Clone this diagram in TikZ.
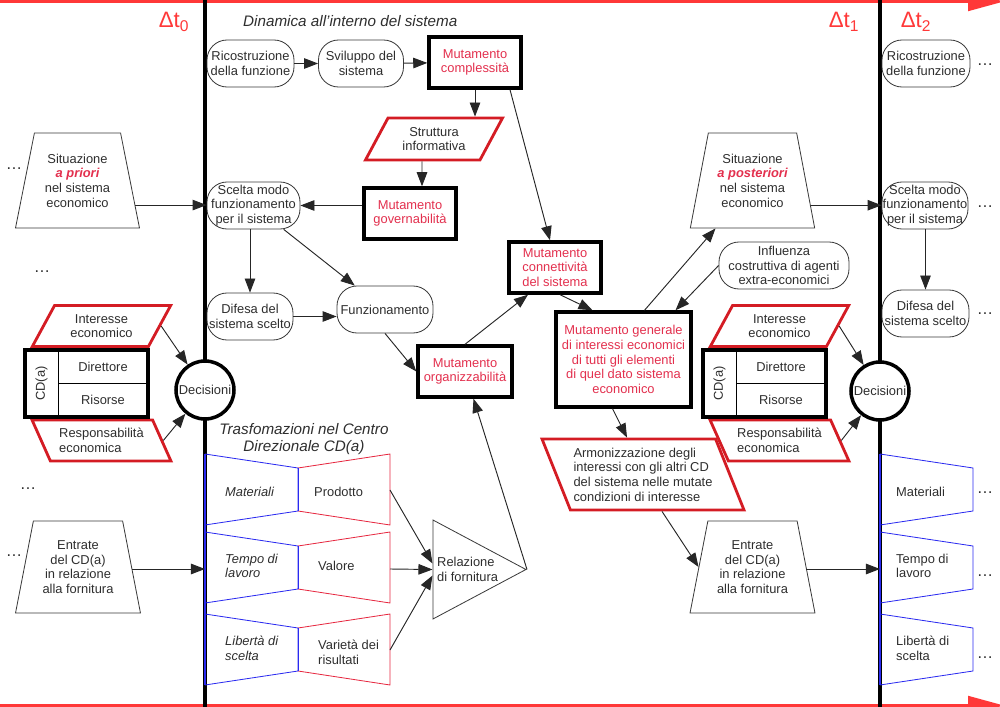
\documentclass[tikz,border=0pt]{standalone}
\usepackage{fontspec}
\setmainfont{Liberation Sans}
\usetikzlibrary{arrows.meta,shapes.geometric,shapes.misc}

\definecolor{txtgray}{HTML}{2E2E2E}
\definecolor{redtxt}{HTML}{E3304E}
\definecolor{rededge}{HTML}{D41C24}
\definecolor{tred}{HTML}{FF3838}
\definecolor{linegray}{HTML}{3A3A3A}
\definecolor{rowblue}{HTML}{2A2AF0}
\definecolor{rowred}{HTML}{E62840}

\newcommand{\pxu}{0.03cm}

\tikzset{
  txt/.style={font=\fontsize{11}{12.5}\selectfont, text=txtgray, align=center, inner sep=0pt},
  pill/.style={txt, draw=linegray, line width=0.7pt, rounded corners=0.6cm, fill=white, minimum height=47*\pxu},
  mutbox/.style={txt, draw=black, line width=2.9pt, fill=white, text=redtxt, minimum width=92*\pxu, minimum height=51*\pxu},
  para/.style={txt, trapezium, trapezium stretches=true, draw=rededge, line width=2.4pt, fill=white, minimum height=41*\pxu, minimum width=139*\pxu},
  trap/.style={txt, trapezium, trapezium angle=75, trapezium stretches=true, draw=linegray, line width=0.7pt, minimum width=125*\pxu},
  reltri/.style={isosceles triangle, isosceles triangle stretches, draw=linegray, line width=0.7pt, inner sep=0pt, minimum width=99*\pxu, minimum height=93*\pxu},
  decis/.style={txt, circle, draw=black, line width=3pt, fill=white, minimum size=58*\pxu},
  arr/.style={-{Triangle[length=12pt,width=9pt]}, line width=0.8pt, draw=black!85},
  dtlabel/.style={font=\fontsize{19}{20}\selectfont, text=tred, inner sep=0pt},
  ttl/.style={font=\fontsize{13}{15}\selectfont\itshape, text=txtgray, inner sep=0pt, align=center},
  rowtxt/.style={txt, align=left, anchor=west},
  dotstxt/.style={txt, font=\fontsize{14}{14}\selectfont},
  bluerow/.style={draw=rowblue, line width=0.7pt},
  redrow/.style={draw=rowred, line width=0.7pt},
  cdframe/.style={draw=black, line width=3pt},
  cdline/.style={draw=black, line width=0.7pt},
  tline/.style={draw=tred, line width=2.5pt, -{Triangle[length=1.08cm,width=0.56cm]}},
  vline/.style={draw=black, line width=2.6pt},
}

\begin{document}
\begin{tikzpicture}[x=0.03cm, y=-0.03cm]
\useasboundingbox (0,0) rectangle (1000,707);

\draw [tline] (0,1.5) -- (1004,1.5);
\draw [tline] (0,705.5) -- (1004,705.5);
\draw [vline] (205,0) -- (205,707);
\draw [vline] (880,0) -- (880,707);
\draw [rowblue, line width=2pt] (205,454) -- (205,685);
\draw [rowblue, line width=2pt] (880,454) -- (880,685);

\node [dtlabel] (dt0) at (174,22) {Δt\textsubscript{0}};
\node [dtlabel] (dt1) at (844,22) {Δt\textsubscript{1}};
\node [dtlabel] (dt2) at (916,22) {Δt\textsubscript{2}};
\node [ttl, anchor=west] (dyn) at (243,21) {Dinamica all'interno del sistema};
\node [ttl] (trasf) at (304,439) {Trasfomazioni nel Centro\\Direzionale CD(a)};

\node [pill, minimum width=87*\pxu] (ric0) at (250.5,63.5) {Ricostruzione\\della funzione};
\node [pill, minimum width=85*\pxu] (svil) at (361,63.5) {Sviluppo del\\sistema};
\node [mutbox] (mcompl) at (475,62.5) {Mutamento\\complessità};
\node [para, trapezium left angle=57, trapezium right angle=123, minimum width=138*\pxu, minimum height=42*\pxu] (strutt) at (434,139) {Struttura\\informativa};
\node [mutbox] (mgov) at (410,213.5) {Mutamento\\governabilità};
\node [pill, minimum width=93*\pxu] (scelta0) at (253.5,205.5) {Scelta modo\\funzionamento\\per il sistema};
\node [trap, minimum height=95*\pxu] (sit0) at (77.5,180.5) {Situazione\\{\color{redtxt}\bfseries\itshape a priori}\\nel sistema\\economico};
\node [pill, minimum width=86*\pxu] (dif0) at (250,316.5) {Difesa del\\sistema scelto};
\node [pill, minimum width=96*\pxu] (funz) at (385,309.5) {Funzionamento};
\node [mutbox, minimum width=94*\pxu] (morg) at (465,371.5) {Mutamento\\organizzabilità};
\node [mutbox] (mconn) at (555,267.5) {Mutamento\\connettività\\del sistema};
\node [mutbox, minimum width=135*\pxu, minimum height=95*\pxu] (mgen) at (623.5,359.5) {Mutamento generale\\di interessi economici\\di tutti gli elementi\\di quel dato sistema\\economico};
\node [trap, minimum height=95*\pxu] (sit1) at (752.5,180.5) {Situazione\\{\color{redtxt}\bfseries\itshape a posteriori}\\nel sistema\\economico};
\node [pill, minimum width=130*\pxu] (influ) at (784,265.5) {Influenza\\costruttiva di agenti\\extra-economici};
\node [para, trapezium left angle=117, trapezium right angle=63, minimum width=202*\pxu, minimum height=71*\pxu, align=left] (armon) at (643,474.5) {Armonizzazione degli\\interessi con gli altri CD\\del sistema nelle mutate\\condizioni di interesse};
\node [trap, minimum height=92*\pxu] (entr0) at (78,567) {Entrate\\del CD(a)\\in relazione\\alla fornitura};
\node [trap, minimum height=92*\pxu] (entr1) at (752.5,567) {Entrate\\del CD(a)\\in relazione\\alla fornitura};
\node [reltri, anchor=apex] (rel) at (527,569.5) {};
\node [txt, align=left, anchor=west] (reltxt) at (437,569.5) {Relazione\\di fornitura};

\node [para, trapezium left angle=58, trapezium right angle=122] (int0) at (101.5,326) {Interesse\\economico};
\node [para, trapezium left angle=122, trapezium right angle=58, align=left] (resp0) at (101.5,440.5) {Responsabilità\\economica};
\draw [cdframe] (25,350) rectangle (148,417);
\draw [cdline] (58,350) -- (58,417);
\draw [cdline] (58,383.5) -- (148,383.5);
\node [txt, rotate=90] (cd0) at (41.5,383.5) {CD(a)};
\node [txt] (dir0) at (103,367) {Direttore};
\node [txt] (ris0) at (103,400) {Risorse};
\node [decis] (dec0) at (205,390) {Decisioni};

\node [para, trapezium left angle=58, trapezium right angle=122] (int1) at (779.5,326) {Interesse\\economico};
\node [para, trapezium left angle=122, trapezium right angle=58, align=left] (resp1) at (779.5,440.5) {Responsabilità\\economica};
\draw [cdframe] (703,350) rectangle (826,417);
\draw [cdline] (736,350) -- (736,417);
\draw [cdline] (736,383.5) -- (826,383.5);
\node [txt, rotate=90] (cd1) at (719.5,383.5) {CD(a)};
\node [txt] (dir1) at (781,367) {Direttore};
\node [txt] (ris1) at (781,400) {Risorse};
\node [decis] (dec1) at (880,391) {Decisioni};

\node [pill, minimum width=88*\pxu] (ric2) at (926,63.5) {Ricostruzione\\della funzione};
\node [pill, minimum width=86*\pxu] (scelta2) at (925,205.5) {Scelta modo\\funzionamento\\per il sistema};
\node [pill, minimum width=87*\pxu] (dif2) at (925.5,313.5) {Difesa del\\sistema scelto};

\draw [bluerow] (205,454) -- (298,468) -- (298,511) -- (205,525);
\draw [redrow] (298,468) -- (390,454) -- (390,525) -- (298,511);
\draw [bluerow] (298,468) -- (298,511);
\draw [bluerow] (205,532) -- (298,546) -- (298,589) -- (205,603);
\draw [redrow] (298,546) -- (390,532) -- (390,603) -- (298,589);
\draw [bluerow] (298,546) -- (298,589);
\draw [bluerow] (205,614) -- (298,628) -- (298,671) -- (205,685);
\draw [redrow] (298,628) -- (390,614) -- (390,685) -- (298,671);
\draw [bluerow] (298,628) -- (298,671);
\draw [bluerow] (880,454) -- (973,468) -- (973,511) -- (880,525);
\draw [bluerow] (880,532) -- (973,546) -- (973,589) -- (880,603);
\draw [bluerow] (880,614) -- (973,628) -- (973,671) -- (880,685);

\node [rowtxt, font=\fontsize{11}{12.5}\selectfont\itshape] (mat0) at (225,492) {Materiali};
\node [rowtxt, font=\fontsize{11}{12.5}\selectfont\itshape] (tem0) at (225,566) {Tempo di\\lavoro};
\node [rowtxt, font=\fontsize{11}{12.5}\selectfont\itshape] (lib0) at (225,648.5) {Libertà di\\scelta};
\node [rowtxt] (prod) at (314,492) {Prodotto};
\node [rowtxt] (val) at (318,566) {Valore};
\node [rowtxt] (var) at (318,652) {Varietà dei\\risultati};
\node [rowtxt] (mat2) at (896,492) {Materiali};
\node [rowtxt] (tem2) at (896,566) {Tempo di\\lavoro};
\node [rowtxt] (lib2) at (896,648.5) {Libertà di\\scelta};

\node [dotstxt] (dl1) at (14,169) {\dots};
\node [dotstxt] (dl2) at (42,272) {\dots};
\node [dotstxt] (dl3) at (28,489) {\dots};
\node [dotstxt] (dl4) at (14,556) {\dots};
\node [dotstxt] (dr1) at (985,65) {\dots};
\node [dotstxt] (dr2) at (985,207) {\dots};
\node [dotstxt] (dr3) at (985,314) {\dots};
\node [dotstxt] (dr4) at (985,493) {\dots};
\node [dotstxt] (dr5) at (985,576) {\dots};
\node [dotstxt] (dr6) at (985,658) {\dots};

\coordinate (prodR) at (390,490);
\coordinate (valR) at (390,569);
\coordinate (varR) at (390,650);
\coordinate (row0in) at (205,569);
\coordinate (row2in) at (880,569);

\draw [arr] (ric0) -- (svil);
\draw [arr] (svil) -- (mcompl);
\draw [arr] (mcompl.south) -- (mcompl.south |- strutt.north);
\draw [arr] ([xshift=-12*\pxu]strutt.south) -- ([xshift=12*\pxu]mgov.north);
\draw [arr] (mgov.west |- scelta0.east) -- (scelta0.east);
\draw [arr] ([xshift=35*\pxu]mcompl.south) -- ([xshift=-5*\pxu]mconn.north);
\draw [arr] (sit0.-23) -- (sit0.-23 -| scelta0.west);
\draw [arr] (scelta0.south -| dif0.north) -- (dif0.north);
\draw [arr] (scelta0) -- (funz);
\draw [arr] (dif0.east) -- (dif0.east -| funz.west);
\draw [arr] (funz.south) -- (morg.west);
\draw [arr] (morg.north) -- ([xshift=-27*\pxu]mconn.south);
\draw [arr] ([xshift=5*\pxu]mconn.south) -- ([xshift=-31*\pxu]mgen.north);
\draw [arr] ([xshift=21*\pxu]mgen.north) -- ([xshift=-37*\pxu]sit1.south);
\draw [arr] (influ.west) -- ([xshift=52*\pxu]mgen.north);
\draw [arr] (sit1.-23) -- (sit1.-23 -| scelta2.west);
\draw [arr] ([xshift=-11*\pxu]mgen.south) -- ([xshift=-16*\pxu]armon.north);
\draw [arr] ([xshift=19*\pxu]armon.south) -- (entr1.west);
\draw [arr] (entr1.east |- row2in) -- (row2in);
\draw [arr] (entr0.east |- row0in) -- (row0in);
\draw [arr] (prodR) -- ([yshift=0.18cm]rel.west);
\draw [arr] (valR) -- (rel.west);
\draw [arr] (varR) -- ([yshift=-0.18cm]rel.west);
\draw [arr] (rel.apex) -- (morg);
\draw [arr] (int0.east) -- (dec0);
\draw [arr] (resp0.east) -- (dec0);
\draw [arr] (int1.east) -- (dec1);
\draw [arr] (resp1.east) -- (dec1);
\draw [arr] (scelta2.south -| dif2.north) -- (dif2.north);
\end{tikzpicture}
\end{document}
